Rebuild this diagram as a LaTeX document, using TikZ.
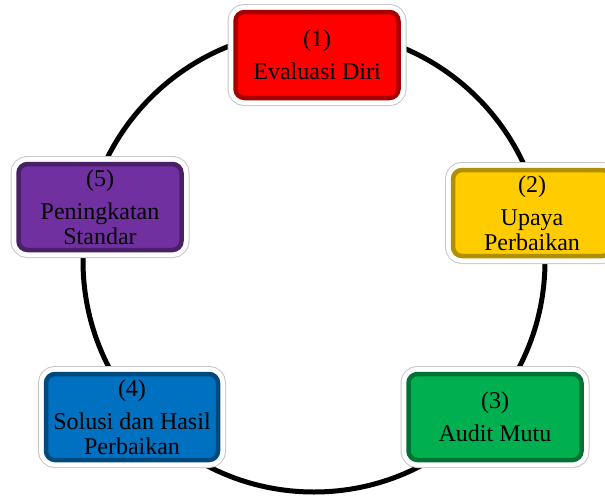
\documentclass[tikz,border=0pt]{standalone}
\usepackage{fontspec}
\setmainfont{Liberation Serif}
\usepackage[dvipsnames]{xcolor}
\definecolor{boxred}{RGB}{255,0,0}
\definecolor{boxyellow}{RGB}{255,204,0}
\definecolor{boxgreen}{RGB}{0,176,80}
\definecolor{boxblue}{RGB}{0,112,192}
\definecolor{boxpurple}{RGB}{112,48,160}

\begin{document}
\begin{tikzpicture}[x=1pt,y=-1pt,
    main node/.style={rectangle,rounded corners=9pt,minimum height=86pt,align=center,inner sep=2pt,
        font=\fontsize{24}{25}\selectfont,line width=4.5pt,
        preaction={draw=black!22,line width=16pt},
        preaction={draw=white,line width=14pt}},
    cycle line/.style={line width=5pt,black}]

                    \useasboundingbox (0,0) rectangle (605,501);

                    % the cycle
                    \coordinate (c) at (314,261);
                    \draw[cycle line] (c) circle (231pt);

                    \node (1) [main node,fill=boxred,draw=boxred!65!black,minimum width=163pt] at (317,55) {(1)\\[8pt]Evaluasi Diri};
                    \node (2) [main node,fill=boxyellow,draw=boxyellow!70!black,minimum width=158pt] at (532,213) {(2)\\[8pt]Upaya\\Perbaikan};
                    \node (3) [main node,fill=boxgreen,draw=boxgreen!65!black,minimum width=173pt] at (495,417) {(3)\\[8pt]Audit Mutu};
                    \node (4) [main node,fill=boxblue,draw=boxblue!65!black,minimum width=172pt] at (132,417) {(4)\\[8pt]Solusi dan Hasil\\Perbaikan};
                    \node (5) [main node,fill=boxpurple,draw=boxpurple!65!black,minimum width=163pt] at (100,207) {(5)\\[8pt]Peningkatan\\Standar};
                \end{tikzpicture}
\end{document}
